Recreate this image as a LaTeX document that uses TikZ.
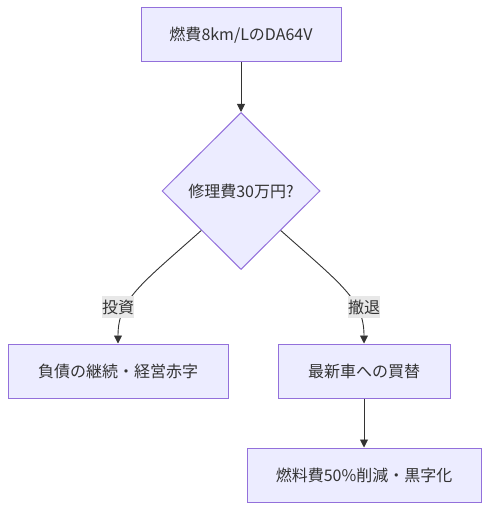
\documentclass[tikz,border=0pt]{standalone}
\usepackage{fontspec}
\setmainfont{Noto Sans CJK JP}
\usetikzlibrary{shapes.geometric}
\usetikzlibrary{arrows.meta}
\definecolor{boxfill}{HTML}{ECECFF}
\definecolor{boxline}{HTML}{9370DB}
\definecolor{ink}{HTML}{333333}
\definecolor{labelbg}{HTML}{E8E8E8}
\tikzset{
every node/.style={ % Sets the text for all nodes
text=ink,
font=\fontsize{16}{18}\selectfont},
process/.style={ % Rectangular steps
draw=boxline,
fill=boxfill,
line width=1pt,
minimum height=54pt,
inner sep=0pt},
decision/.style={ % The question
diamond,
draw=boxline,
fill=boxfill,
line width=1pt,
minimum width=158pt,
minimum height=157pt,
inner sep=0pt},
flow/.style={ % Connectors with filled heads
draw=ink,
line width=0.9pt,
-{Triangle[length=8pt,width=8pt]}},
choice/.style={ % Text on a connector
fill=labelbg,
inner xsep=0pt,
inner ysep=0pt,
minimum height=22pt}}

\begin{document}
\begin{tikzpicture}[x=1pt,y=-1pt]
	\useasboundingbox (0,0) rectangle (489,510);
	\node[process, minimum width=200pt] (car) at (241,35) {燃費8km/LのDA64V};
	\node[decision] (repair) at (241,191) {修理費30万円?};
	\node[process, minimum width=220pt] (debt) at (118,371) {負債の継続・経営赤字};
	\node[process, minimum width=172pt] (buy) at (364,371) {最新車への買替};
	\node[process, minimum width=234pt] (profit) at (364,475) {燃料費50\%削減・黒字化};
	\draw[flow] (car) -- (repair);
	\draw[flow] (repair.south west) .. controls (140,285) and (118,300) .. (debt.north);
	\draw[flow] (repair.south east) .. controls (342,285) and (364,300) .. (buy.north);
	\draw[flow] (buy) -- (profit);
	\node[choice] (invest) at (118,307) {投資};
	\node[choice] (retreat) at (364,307) {撤退};
\end{tikzpicture}
\end{document}
